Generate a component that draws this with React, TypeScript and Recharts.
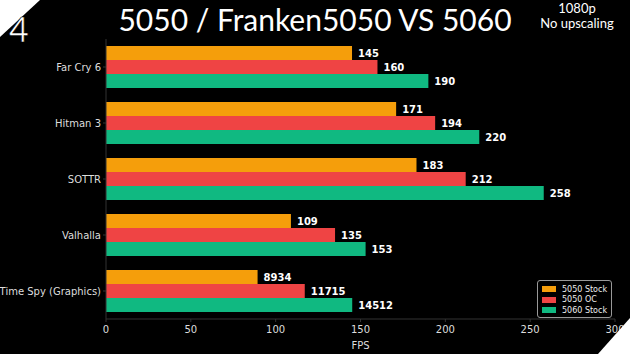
import { BarChart, Bar, XAxis, YAxis, LabelList } from "recharts";

const games = ["Far Cry 6", "Hitman 3", "SOTTR", "Valhalla", "Time Spy (Graphics)"];
const stock5050 = [145, 171, 183, 109, 8934];
const oc5050 = [160, 194, 212, 135, 11715];
const stock5060 = [190, 220, 258, 153, 14512];
// Time Spy is a score, plotted at 1/100 so it fits the FPS axis
const scaleDiv = [1, 1, 1, 1, 100];
const xTicks = [0, 50, 100, 150, 200, 250, 300];
const seriesNames = ["5050 Stock", "5050 OC", "5060 Stock"];
const seriesColors = ["#f59e0b", "#ef4444", "#10b981"];

const data = games.map((g, i) => ({
  game: g,
  s50: stock5050[i] / scaleDiv[i],
  oc50: oc5050[i] / scaleDiv[i],
  s60: stock5060[i] / scaleDiv[i],
  s50Label: stock5050[i],
  oc50Label: oc5050[i],
  s60Label: stock5060[i],
}));

const font = "'DejaVu Sans', sans-serif";
const labelStyle = { fill: "#fff", fontSize: 10, fontWeight: 700, fontFamily: font };

function GameTick(props: any) {
  const { x, y, payload } = props;
  return (
    <text x={x} y={y} dy={4} textAnchor="end" fill="#ddd" fontSize={10} fontFamily={font}>
      {payload.value}
    </text>
  );
}

export default function App() {
  return (
    <div style={{ position: "fixed", left: 0, top: 0, width: 630, height: 354, background: "#000", overflow: "hidden" }}>
      <BarChart
        width={630}
        height={354}
        data={data}
        layout="vertical"
        margin={{ top: 39, right: 15, bottom: 0, left: 0 }}
        barSize={14}
        barGap={0}
      >
        <XAxis
          type="number"
          domain={[0, 300]}
          ticks={xTicks}
          height={35}
          stroke="#333"
          tickSize={3}
          tickMargin={4}
          tick={{ fill: "#ddd", fontSize: 10, fontFamily: font }}
          label={{ value: "FPS", position: "insideBottom", offset: 5, fill: "#ddd", fontSize: 10, fontFamily: font }}
        />
        <YAxis
          type="category"
          dataKey="game"
          width={106}
          stroke="#333"
          tickSize={3}
          tick={<GameTick />}
        />
        <Bar dataKey="s50" name={seriesNames[0]} fill={seriesColors[0]} isAnimationActive={false}>
          <LabelList dataKey="s50Label" position="right" offset={6} style={labelStyle} />
        </Bar>
        <Bar dataKey="oc50" name={seriesNames[1]} fill={seriesColors[1]} isAnimationActive={false}>
          <LabelList dataKey="oc50Label" position="right" offset={6} style={labelStyle} />
        </Bar>
        <Bar dataKey="s60" name={seriesNames[2]} fill={seriesColors[2]} isAnimationActive={false}>
          <LabelList dataKey="s60Label" position="right" offset={6} style={labelStyle} />
        </Bar>
      </BarChart>
      <div
        style={{
          position: "absolute", left: 537, top: 280, width: 75, height: 38, boxSizing: "border-box",
          border: "1px solid #999", borderRadius: 3, background: "#000", padding: "3px 0 0 4px",
          fontFamily: font, fontSize: 8, color: "#eee",
        }}
      >
        {seriesNames.map((n, i) => (
          <div key={n} style={{ display: "flex", alignItems: "center", height: 10.5, whiteSpace: "nowrap" }}>
            <span style={{ display: "inline-block", width: 14, height: 6, background: seriesColors[i], marginRight: 6 }} />
            {n}
          </div>
        ))}
      </div>
      <div style={{ position: "absolute", left: 0, top: 1, width: 630, textAlign: "center", color: "#fff", fontFamily: "Lato, sans-serif", fontSize: 30, lineHeight: "36px" }}>
        5050 / Franken5050 VS 5060
      </div>
      <div style={{ position: "absolute", left: 522, top: 1, width: 110, textAlign: "center", color: "#fff", fontFamily: "Lato, sans-serif", fontSize: 13, lineHeight: "15px" }}>
        <div>1080p</div>
        <div>No upscaling</div>
      </div>
      <svg style={{ position: "absolute", left: 0, top: 0 }} width={630} height={354}>
        <polygon points="0,0 40,0 0,37" fill="#fff" />
        <polygon points="630,318 630,354 598,354" fill="#fff" />
        <text x={9} y={42} fill="#fff" stroke="#000" strokeWidth={0.6} fontSize={34} fontFamily="Lato, sans-serif">4</text>
      </svg>
    </div>
  );
}
